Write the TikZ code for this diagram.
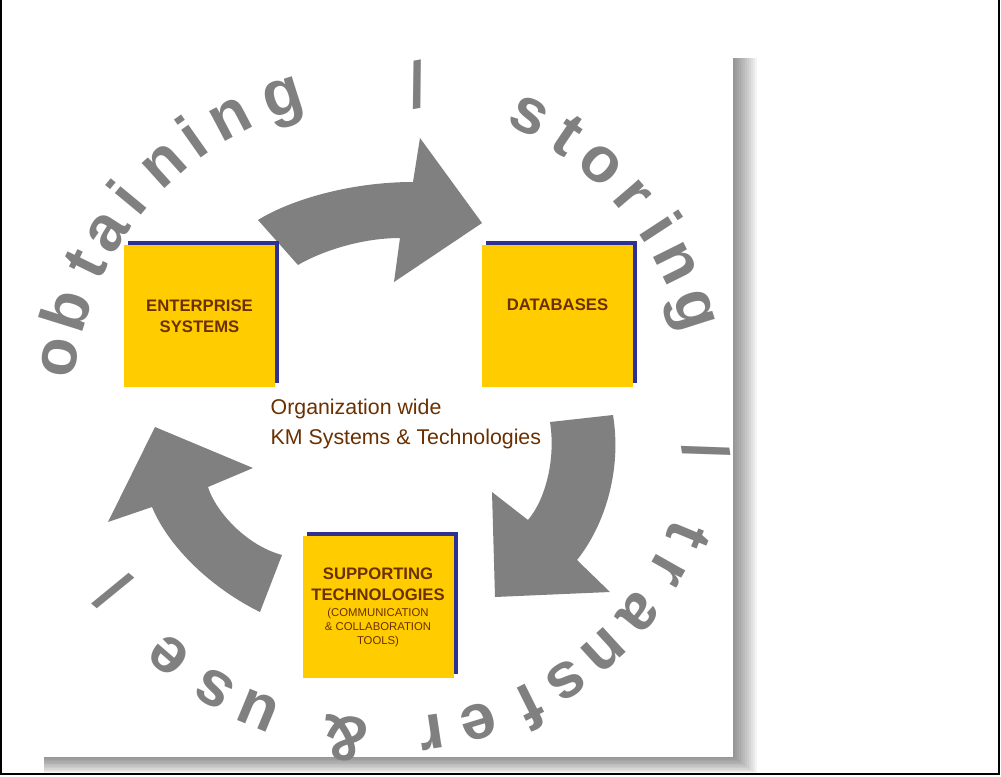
\documentclass[tikz,border=0pt]{standalone}
\usepackage{fontspec}
\setmainfont{Liberation Sans}
\usepackage{xcolor}
\usepackage{tikz}
\usetikzlibrary{calc,shadows}
\definecolor{kmGray}{HTML}{808080}
\definecolor{kmYellow}{HTML}{FFCC00}
\definecolor{kmNavy}{HTML}{2E3192}
\definecolor{kmBrown}{HTML}{6B3000}

\begin{document}
\begin{tikzpicture}[x=0.75pt, y=-0.75pt,
  bx/.style={fill=kmYellow, minimum width=113.25pt, minimum height=106.5pt, inner sep=0pt,
    align=center, text=kmBrown, font=\fontsize{12.5}{15.75}\selectfont\bfseries,
    general shadow={fill=kmNavy, shadow xshift=3pt, shadow yshift=3pt}},
  ltr/.style={font=\fontsize{48}{48}\selectfont\bfseries, text=kmGray, anchor=base, inner sep=0pt}]
\useasboundingbox (0,0) rectangle (1001,776);
% outer frame
\draw[line width=1.1pt] (1,0) -- (1,774) -- (999,774) -- (999,0);
% panel with soft shadow
\foreach \k in {1,...,12}
  \fill[black, opacity=0.045] (44,58) rectangle (733+2*\k,757+1.4*\k);
\fill[white] (38,52) rectangle (733,757);
% curved arrows
\fill[kmGray] (258,220) .. controls (290,200) and (350,182) .. (413,182) -- (420,138) -- (482,223)
  -- (394,282) -- (400,238) .. controls (360,238) and (320,252) .. (298,265) -- cycle;
\fill[kmGray] (550,422) -- (613,415) .. controls (622,470) and (605,525) .. (577,560) -- (610,592)
  -- (495,597) -- (492,492) -- (528,520) .. controls (545,500) and (556,460) .. (550,422) -- cycle;
\fill[kmGray] (282,555) -- (260,612) .. controls (215,590) and (170,550) .. (152,507) -- (108,522)
  -- (155,427) -- (253,468) -- (208,487) .. controls (215,510) and (245,545) .. (282,555) -- cycle;
% boxes
\node[bx] (ES) at (199.5,316) {ENTERPRISE\\SYSTEMS};
\node[bx] (DB) at (557.5,315.5) {DATABASES\\\mbox{}};
\node[bx] (ST) at (378,607) {SUPPORTING\\TECHNOLOGIES\\[-3.75pt]
  \fontsize{8.5}{10.5}\selectfont\mdseries (COMMUNICATION\\[-5.25pt]
  \fontsize{8.5}{10.5}\selectfont\mdseries \& COLLABORATION\\[-5.25pt]
  \fontsize{8.5}{10.5}\selectfont\mdseries TOOLS)};
\node[anchor=west, align=left, text=kmBrown, font=\fontsize{16}{22}\selectfont] (KM) at (266,424)
  {Organization wide\\KM Systems \& Technologies};
% lettering round the circle
\coordinate (C) at (383,409);
\foreach \a/\c in {171/o,162.7/b,154/t,147.2/a,140.4/i,132/n,125.2/i,117.8/n,107.8/g,
    63.5/s,56/t,48.3/o,40.5/r,33.2/i,26.4/n,17.7/g,
    -22.5/t,-29.5/r,-38.5/a,-47.5/n,-56/s,-63.5/f,-73/e,-81.5/r,-96.5/\&,-112.5/u,-121/s,-131/e}
  \path (C) ++(-\a:310) node[ltr, rotate=\a-90] {\c};
\foreach \a in {84,-7.3,-146}
  \path (C) ++(-\a:326) node[ltr, anchor=center, rotate=\a-74] {/};
\end{tikzpicture}
\end{document}
